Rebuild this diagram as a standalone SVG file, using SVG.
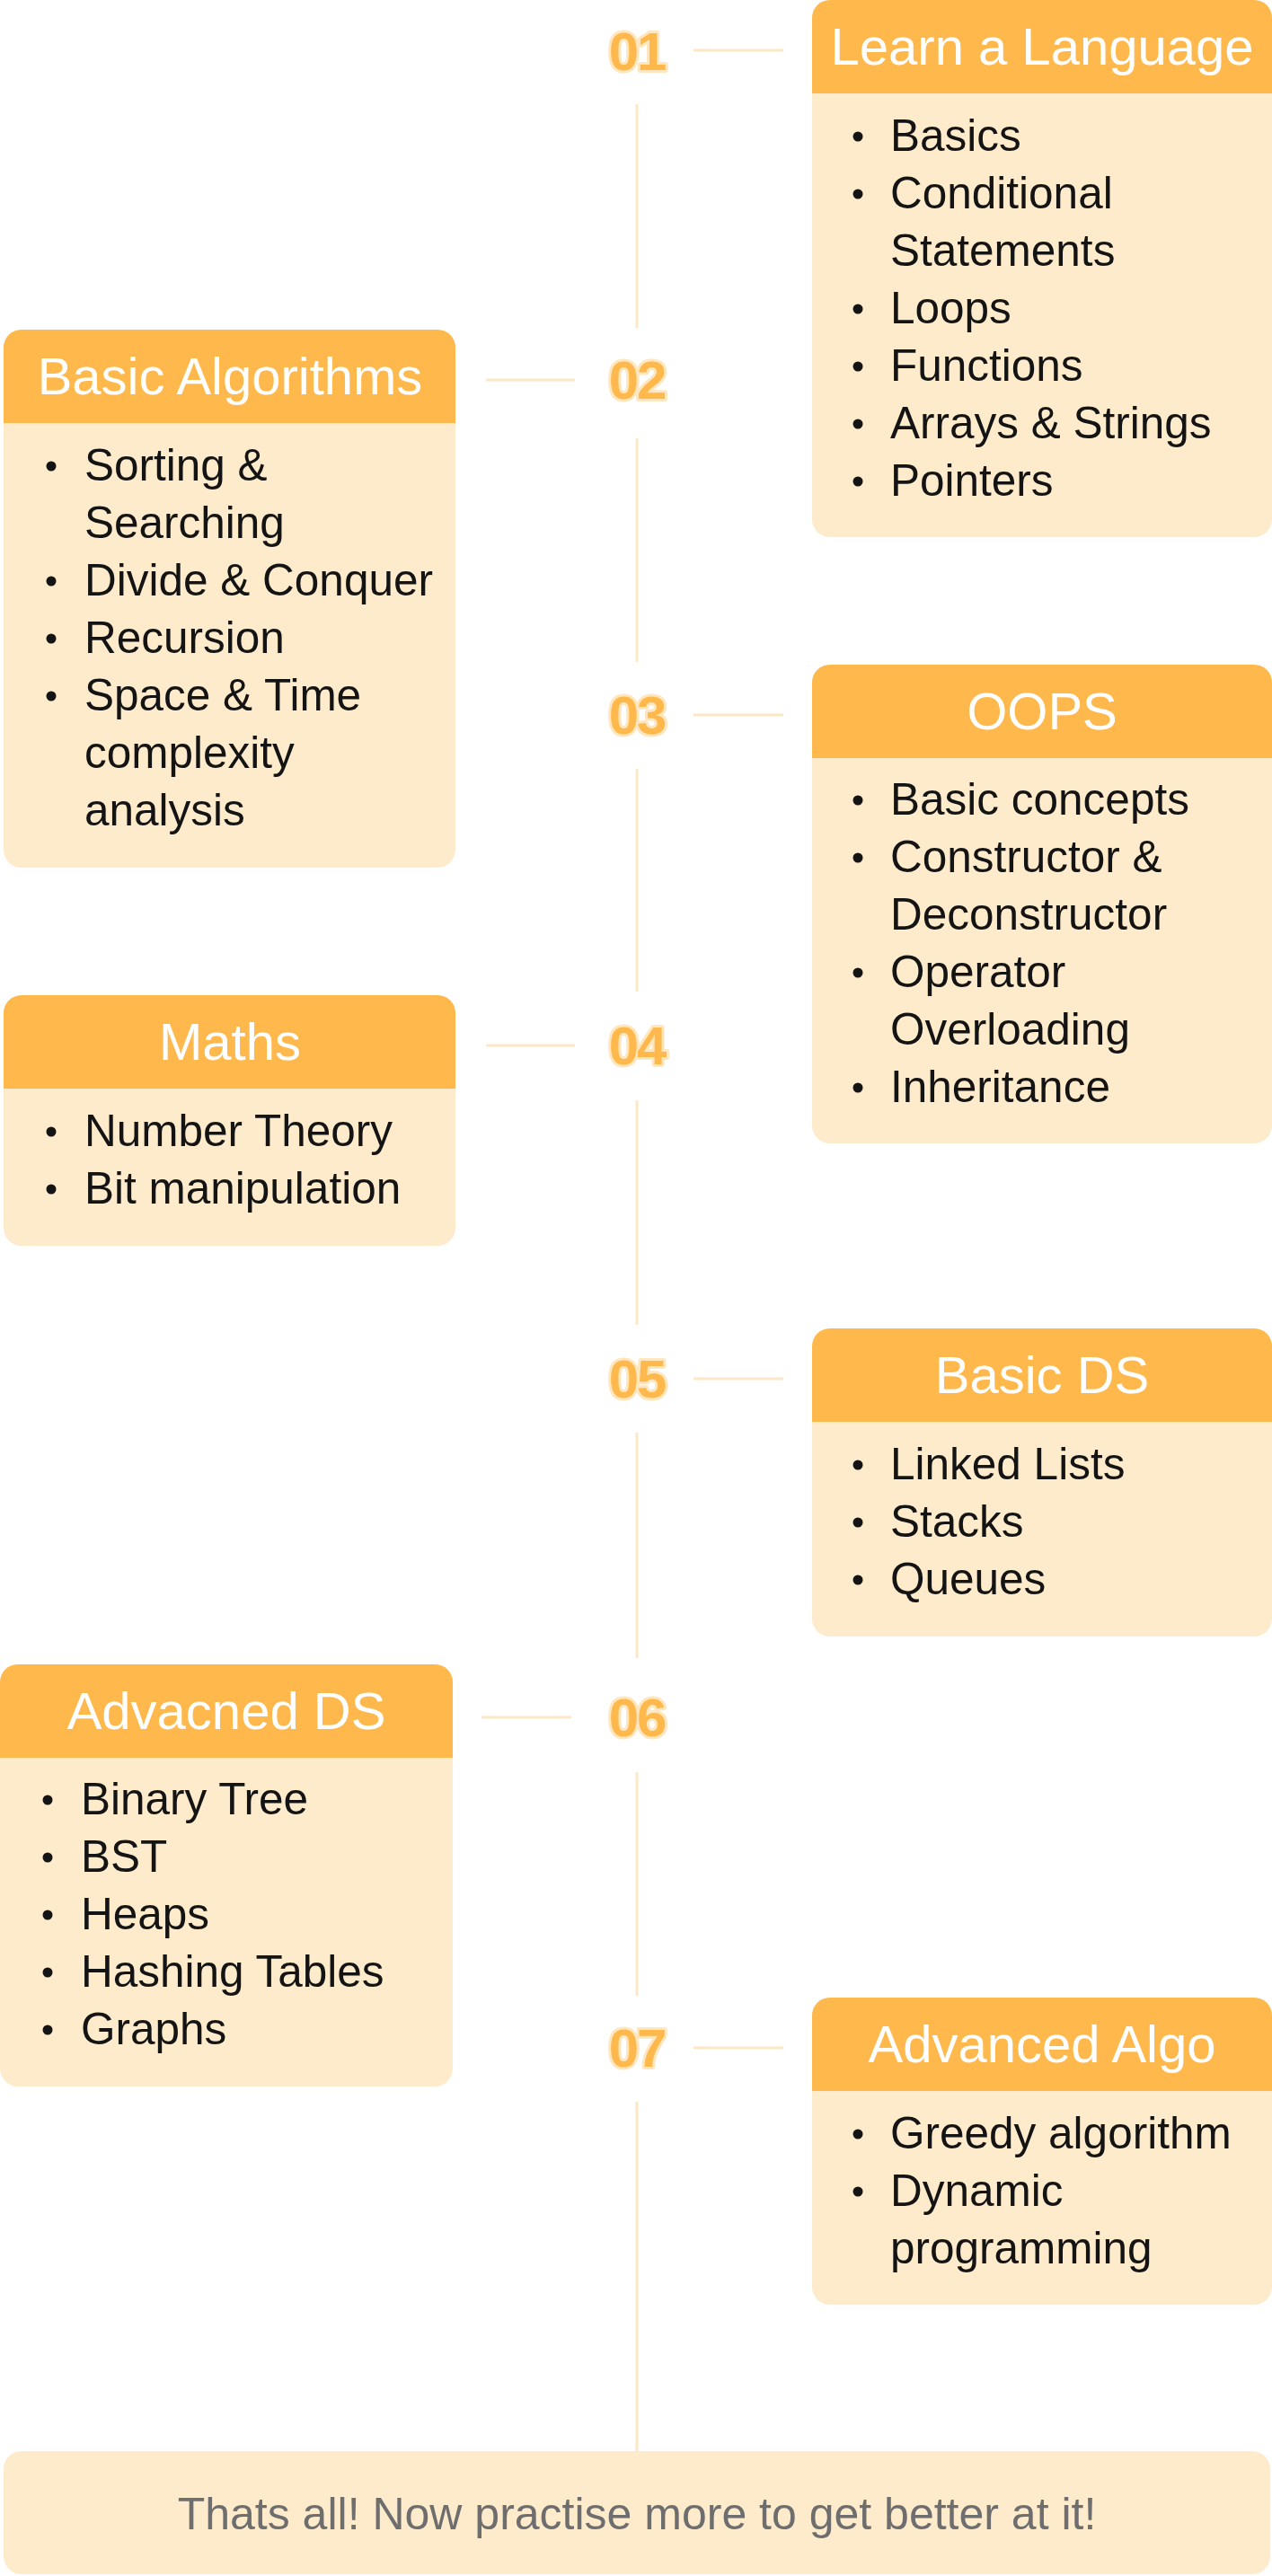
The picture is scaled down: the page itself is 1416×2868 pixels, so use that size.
<svg xmlns="http://www.w3.org/2000/svg" width="1416" height="2868" viewBox="0 0 1416 2868">
<style>
.body{fill:#FEEBCC}
.head{fill:#FFB84C}
.title{font-family:"Liberation Sans",Arial,sans-serif;font-size:58px;fill:#FFFFFF;text-anchor:middle}
.item{font-family:"Liberation Sans",Arial,sans-serif;font-size:49.5px;fill:#141414}
.dot{fill:#141414}
.num{font-family:"Liberation Sans",Arial,sans-serif;font-size:60px;font-weight:bold;fill:#FFB84C;stroke:#FEE6BF;stroke-width:6px;paint-order:stroke;stroke-linejoin:round;text-anchor:middle;letter-spacing:-2px}
.conn{stroke:#FDE8C6;stroke-width:3;fill:none}
.foot{font-family:"Liberation Sans",Arial,sans-serif;font-size:50px;fill:#6E6E6E;text-anchor:middle}
</style>
<rect width="1416" height="2868" fill="#FFFFFF"/>
<g id="connectors">
<line class="conn" x1="709" y1="116" x2="709" y2="365"/>
<line class="conn" x1="709" y1="488" x2="709" y2="737"/>
<line class="conn" x1="709" y1="856" x2="709" y2="1104"/>
<line class="conn" x1="709" y1="1225" x2="709" y2="1475"/>
<line class="conn" x1="709" y1="1595" x2="709" y2="1846"/>
<line class="conn" x1="709" y1="1973" x2="709" y2="2222"/>
<line class="conn" x1="709" y1="2340" x2="709" y2="2729"/>
<line class="conn" x1="772" y1="56" x2="872" y2="56"/>
<line class="conn" x1="541" y1="423" x2="640" y2="423"/>
<line class="conn" x1="772" y1="796" x2="872" y2="796"/>
<line class="conn" x1="541" y1="1164" x2="640" y2="1164"/>
<line class="conn" x1="772" y1="1535" x2="872" y2="1535"/>
<line class="conn" x1="536" y1="1912" x2="636" y2="1912"/>
<line class="conn" x1="772" y1="2280" x2="872" y2="2280"/>
</g>
<g id="numbers">
<text class="num" x="709" y="78">01</text>
<text class="num" x="709" y="444">02</text>
<text class="num" x="709" y="817">03</text>
<text class="num" x="709" y="1185">04</text>
<text class="num" x="709" y="1556">05</text>
<text class="num" x="709" y="1933">06</text>
<text class="num" x="709" y="2301">07</text>
</g>
<g id="node-learn-language">
<rect class="body" x="904" y="0" width="512" height="598" rx="20"/>
<path class="head" d="M904,104 V20 A20,20 0 0 1 924,0 H1396 A20,20 0 0 1 1416,20 V104 Z"/>
<text class="title" x="1160" y="72">Learn a Language</text>
<circle class="dot" cx="955" cy="152" r="5.5"/><text class="item" x="991" y="168">Basics</text>
<circle class="dot" cx="955" cy="216" r="5.5"/><text class="item" x="991" y="232">Conditional</text>
<text class="item" x="991" y="296">Statements</text>
<circle class="dot" cx="955" cy="344" r="5.5"/><text class="item" x="991" y="360">Loops</text>
<circle class="dot" cx="955" cy="408" r="5.5"/><text class="item" x="991" y="424">Functions</text>
<circle class="dot" cx="955" cy="472" r="5.5"/><text class="item" x="991" y="488">Arrays &amp; Strings</text>
<circle class="dot" cx="955" cy="536" r="5.5"/><text class="item" x="991" y="552">Pointers</text>
</g>
<g id="node-basic-algorithms">
<rect class="body" x="4" y="367" width="503" height="599" rx="20"/>
<path class="head" d="M4,471 V387 A20,20 0 0 1 24,367 H487 A20,20 0 0 1 507,387 V471 Z"/>
<text class="title" x="256" y="439">Basic Algorithms</text>
<circle class="dot" cx="57" cy="519" r="5.5"/><text class="item" x="94" y="535">Sorting &amp;</text>
<text class="item" x="94" y="599">Searching</text>
<circle class="dot" cx="57" cy="647" r="5.5"/><text class="item" x="94" y="663">Divide &amp; Conquer</text>
<circle class="dot" cx="57" cy="711" r="5.5"/><text class="item" x="94" y="727">Recursion</text>
<circle class="dot" cx="57" cy="775" r="5.5"/><text class="item" x="94" y="791">Space &amp; Time</text>
<text class="item" x="94" y="855">complexity</text>
<text class="item" x="94" y="919">analysis</text>
</g>
<g id="node-oops">
<rect class="body" x="904" y="740" width="512" height="533" rx="20"/>
<path class="head" d="M904,844 V760 A20,20 0 0 1 924,740 H1396 A20,20 0 0 1 1416,760 V844 Z"/>
<text class="title" x="1160" y="812">OOPS</text>
<circle class="dot" cx="955" cy="891" r="5.5"/><text class="item" x="991" y="907">Basic concepts</text>
<circle class="dot" cx="955" cy="955" r="5.5"/><text class="item" x="991" y="971">Constructor &amp;</text>
<text class="item" x="991" y="1035">Deconstructor</text>
<circle class="dot" cx="955" cy="1083" r="5.5"/><text class="item" x="991" y="1099">Operator</text>
<text class="item" x="991" y="1163">Overloading</text>
<circle class="dot" cx="955" cy="1211" r="5.5"/><text class="item" x="991" y="1227">Inheritance</text>
</g>
<g id="node-maths">
<rect class="body" x="4" y="1108" width="503" height="279" rx="20"/>
<path class="head" d="M4,1212 V1128 A20,20 0 0 1 24,1108 H487 A20,20 0 0 1 507,1128 V1212 Z"/>
<text class="title" x="256" y="1180">Maths</text>
<circle class="dot" cx="57" cy="1260" r="5.5"/><text class="item" x="94" y="1276">Number Theory</text>
<circle class="dot" cx="57" cy="1324" r="5.5"/><text class="item" x="94" y="1340">Bit manipulation</text>
</g>
<g id="node-basic-ds">
<rect class="body" x="904" y="1479" width="512" height="343" rx="20"/>
<path class="head" d="M904,1583 V1499 A20,20 0 0 1 924,1479 H1396 A20,20 0 0 1 1416,1499 V1583 Z"/>
<text class="title" x="1160" y="1551">Basic DS</text>
<circle class="dot" cx="955" cy="1631" r="5.5"/><text class="item" x="991" y="1647">Linked Lists</text>
<circle class="dot" cx="955" cy="1695" r="5.5"/><text class="item" x="991" y="1711">Stacks</text>
<circle class="dot" cx="955" cy="1759" r="5.5"/><text class="item" x="991" y="1775">Queues</text>
</g>
<g id="node-advanced-ds">
<rect class="body" x="0" y="1853" width="504" height="470" rx="20"/>
<path class="head" d="M0,1957 V1873 A20,20 0 0 1 20,1853 H484 A20,20 0 0 1 504,1873 V1957 Z"/>
<text class="title" x="252" y="1925">Advacned DS</text>
<circle class="dot" cx="53" cy="2004" r="5.5"/><text class="item" x="90" y="2020">Binary Tree</text>
<circle class="dot" cx="53" cy="2068" r="5.5"/><text class="item" x="90" y="2084">BST</text>
<circle class="dot" cx="53" cy="2132" r="5.5"/><text class="item" x="90" y="2148">Heaps</text>
<circle class="dot" cx="53" cy="2196" r="5.5"/><text class="item" x="90" y="2212">Hashing Tables</text>
<circle class="dot" cx="53" cy="2260" r="5.5"/><text class="item" x="90" y="2276">Graphs</text>
</g>
<g id="node-advanced-algo">
<rect class="body" x="904" y="2224" width="512" height="342" rx="20"/>
<path class="head" d="M904,2328 V2244 A20,20 0 0 1 924,2224 H1396 A20,20 0 0 1 1416,2244 V2328 Z"/>
<text class="title" x="1160" y="2296">Advanced Algo</text>
<circle class="dot" cx="955" cy="2376" r="5.5"/><text class="item" x="991" y="2392">Greedy algorithm</text>
<circle class="dot" cx="955" cy="2440" r="5.5"/><text class="item" x="991" y="2456">Dynamic</text>
<text class="item" x="991" y="2520">programming</text>
</g>
<g id="node-footer">
<rect class="body" x="4" y="2729" width="1410" height="137" rx="20"/>
<text class="foot" x="709" y="2816">Thats all! Now practise more to get better at it!</text>
</g>
</svg>
